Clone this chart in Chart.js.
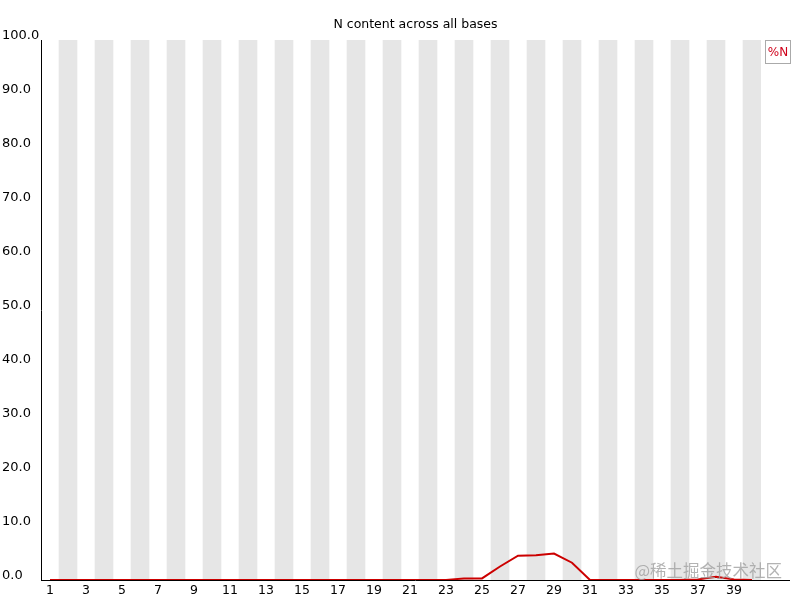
<!DOCTYPE html>
<html lang="en">
<head>
  <meta charset="UTF-8">
  <title>N content across all bases</title>
  <script src="https://cdn.jsdelivr.net/npm/chart.js"></script>
  <style>
    body { margin: 0; background: #fff; }
    .wrap { width: 800px; height: 600px; }
  </style>
</head>
<body>
  <div class="wrap"><canvas id="nContent" width="800" height="600"></canvas></div>
  <script>
    // base positions 1..40
    const positions = ["1","2","3","4","5","6","7","8","9","10","11","12","13","14","15","16","17","18","19","20",
                       "21","22","23","24","25","26","27","28","29","30","31","32","33","34","35","36","37","38","39","40"];
    // %N per position
    const percentN = [0,0,0,0,0,0,0,0,0,0,0,0,0,0,0,0,0,0,0,0,
                      0,0,0,0.3,0.3,2.5,4.5,4.6,4.9,3.2,0,0,0,0,0,0,0.1,0.6,0.1,0];
    // grey background band on every second position
    const bands = [null,100,null,100,null,100,null,100,null,100,null,100,null,100,null,100,null,100,null,100,
                   null,100,null,100,null,100,null,100,null,100,null,100,null,100,null,100,null,100,null,100];

    const FONT = "'DejaVu Sans', sans-serif";

    const extras = {
      id: 'extras',
      beforeDatasetsDraw(chart) {
        // x axis line under the data so the red line at 0 stays visible
        const ctx = chart.ctx;
        const area = chart.chartArea;
        ctx.save();
        ctx.strokeStyle = '#000';
        ctx.lineWidth = 1;
        ctx.beginPath();
        ctx.moveTo(area.left, area.bottom + 0.5);
        ctx.lineTo(790, area.bottom + 0.5);
        ctx.stroke();
        ctx.restore();
      },
      afterDraw(chart) {
        const ctx = chart.ctx;
        const area = chart.chartArea;
        ctx.save();
        // title, centred over axis span
        ctx.fillStyle = '#000';
        ctx.font = '12.5px ' + FONT;
        ctx.textAlign = 'center';
        ctx.textBaseline = 'middle';
        ctx.fillText('N content across all bases', (area.left + 790) / 2, 25);

        // legend box
        ctx.fillStyle = '#fff';
        ctx.fillRect(765, 40, 25, 23);
        ctx.strokeStyle = '#aaa';
        ctx.lineWidth = 1;
        ctx.strokeRect(765.5, 40.5, 25, 23);
        ctx.fillStyle = '#d0021b';
        ctx.font = '12px ' + FONT;
        ctx.fillText('%N', 778, 53);

        // site watermark
        ctx.fillStyle = 'rgba(160,160,160,0.8)';
        ctx.font = "16.5px 'Noto Sans CJK SC', sans-serif";
        ctx.textAlign = 'right';
        ctx.fillText('@稀土掘金技术社区', 782, 571);
        ctx.restore();
      }
    };

    new Chart(document.getElementById('nContent'), {
      type: 'bar',
      data: {
        labels: positions,
        datasets: [
          {
            type: 'line',
            label: '%N',
            data: percentN,
            borderColor: '#cc0000',
            borderWidth: 2,
            pointRadius: 0,
            tension: 0,
            order: 0
          },
          {
            label: 'bands',
            data: bands,
            backgroundColor: '#e6e6e6',
            barPercentage: 1,
            categoryPercentage: 1,
            order: 1
          }
        ]
      },
      options: {
        responsive: false,
        animation: false,
        layout: { padding: { left: 2, right: 39, top: 40, bottom: 0 } },
        plugins: {
          legend: { display: false },
          tooltip: { enabled: false },
          title: { display: false }
        },
        scales: {
          x: {
            grid: { display: false, tickLength: 0 },
            border: { display: false },
            ticks: {
              autoSkip: false,
              maxRotation: 0,
              color: '#000',
              padding: 3,
              font: { family: FONT, size: 12.5 },
              callback: (v, i) => (i % 2 === 0 ? positions[i] : '')
            },
            afterFit: s => { s.height = 20; }
          },
          y: {
            min: 0,
            max: 100,
            grid: { display: false },
            border: { display: true, color: '#000', width: 1 },
            ticks: {
              stepSize: 10,
              color: '#000',
              crossAlign: 'far',
              labelOffset: -4,
              font: { family: FONT, size: 13 },
              callback: v => Number(v).toFixed(1)
            },
            afterFit: s => { s.width = 39; }
          }
        }
      },
      plugins: [extras]
    });
  </script>
</body>
</html>
